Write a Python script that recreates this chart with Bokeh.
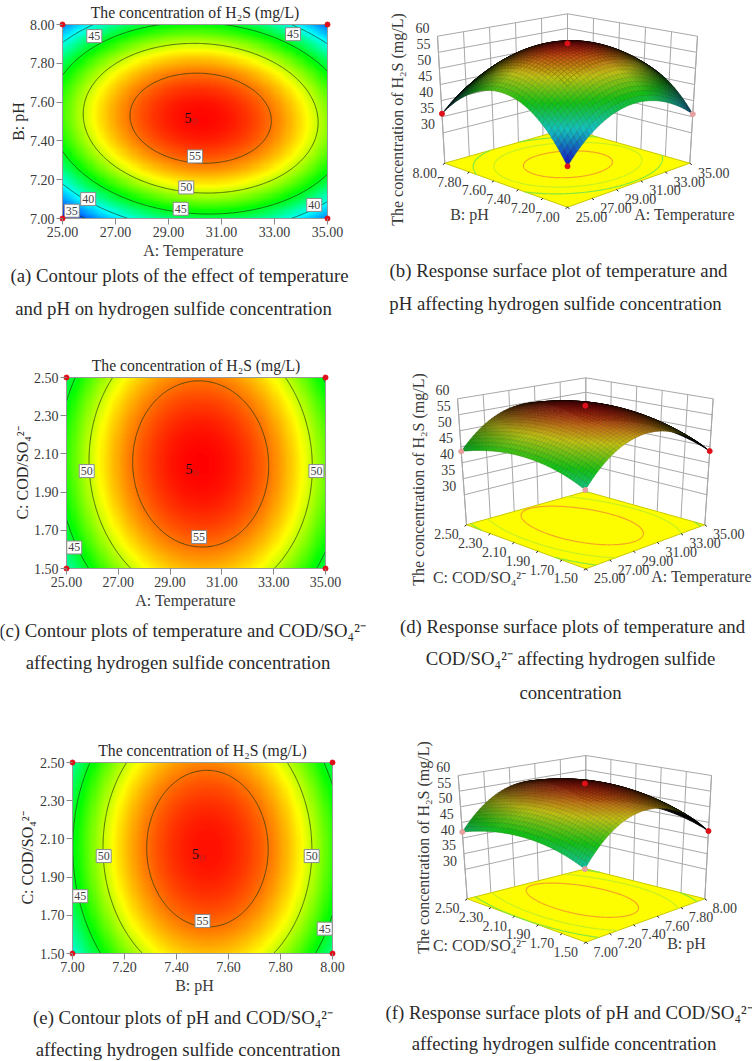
import numpy as np
from math import pi
from contourpy import contour_generator
from bokeh.plotting import figure
from bokeh.layouts import column, row
from bokeh.embed import file_html
from bokeh.resources import INLINE
from bokeh.core.properties import value
from bokeh.models import Label, Range1d, LinearAxis, FixedTicker, PrintfTickFormatter, LinearColorMapper, Title

# ---------- data ----------
TEMP_TICKS = [25, 27, 29, 31, 33, 35]
PH_TICKS = [7.0, 7.2, 7.4, 7.6, 7.8, 8.0]
COD_TICKS = [1.5, 1.7, 1.9, 2.1, 2.3, 2.5]
Z_TICKS = [30, 35, 40, 45, 50, 55, 60]
LEVELS = [35, 40, 45, 50, 55]

# fitted response model, coded units: z0, b1, b2, -a, -b, c
MODEL_AB = [57.8, 0.9, 0.95, -10.0, -13.2, -1.3]
MODEL_AC = [57.9, 0.8, 0.75, -10.7, -3.9, -0.3]
MODEL_BC = [57.5, 0.9, 0.75, -11.7, -3.8, -0.1]

TITLE = "The concentration of H₂S (mg/L)"
NAME_A = "A: Temperature"
NAME_B = "B: pH"
NAME_C = "C: COD/SO₄²⁻"

LABELS_A = [("45", 26.2, 7.94), ("45", 33.7, 7.95), ("55", 30.0, 7.32), ("50", 29.67, 7.16),
            ("45", 29.46, 7.05), ("40", 25.97, 7.10), ("35", 25.35, 7.04), ("40", 34.5, 7.07)]
LABELS_C = [("50", 25.78, 2.01), ("50", 34.65, 2.01), ("55", 30.12, 1.665), ("45", 25.3, 1.61)]
LABELS_E = [("50", 7.12, 2.01), ("50", 7.92, 2.01), ("55", 7.5, 1.67), ("45", 7.03, 1.80), ("45", 7.97, 1.63)]

# ---------- styles ----------
SERIF = "Liberation Serif"
INK = "#2a2a2a"
TICK_INK = "#3a3a3a"
GRID = "#a8a8a8"
STOPS_Z = [32.0, 39.5, 45.5, 51.3, 58.0]
STOPS_C = [(0, 0, 255), (0, 255, 255), (0, 255, 0), (255, 255, 0), (255, 0, 0)]
Z_LOW, Z_HIGH = 20.6, 60.0
PAD = 4
CAP = 18.8
AXN = 16
TIT = 15.7


def rainbow(z):
    z = np.asarray(z, dtype=float)
    return np.stack([np.interp(z, STOPS_Z, [c[i] for c in STOPS_C]) for i in range(3)], axis=-1)


palette = ["#%02x%02x%02x" % tuple(int(round(v)) for v in rainbow(z)) for z in np.linspace(32, 58, 256)]
mapper = LinearColorMapper(palette=palette, low=32, high=58)


def model(m, a, b):
    return m[0] + m[1] * a + m[2] * b + m[3] * a * a + m[4] * b * b + m[5] * a * b


def label(p, cell, x, y, text, size=16, angle=0.0, color=INK):
    p.add_layout(Label(x=x - cell[0], y=y - cell[1], x_units="canvas", y_units="canvas", text=text, text_font=SERIF,
                       text_font_size=f"{size}px", text_align="center", text_baseline="middle",
                       angle=angle, text_color=color))


def blank(cell):
    ox, oy, W, H = cell
    p = figure(frame_width=W, frame_height=H, output_backend="svg", toolbar_location=None, title=None,
               x_range=Range1d(ox, ox + W), y_range=Range1d(oy + H, oy),
               x_axis_location=None, y_axis_location=None,
               min_border_left=0, min_border_right=0, min_border_top=0, min_border_bottom=0)
    p.outline_line_color = None
    p.grid.visible = False
    return p


def strip(cell, xname, xlab_xy, captions):
    p = blank(cell)
    label(p, cell, xlab_xy[0], xlab_xy[1], xname, AXN, color=TICK_INK)
    for t, cxp, cyp in captions:
        label(p, cell, cxp, cyp, t, CAP)
    return p


def contour_panel(m, xt, yt, yname, labels, box, cell, title_x, ystand):
    fx0, fy0, fx1, fy1 = box
    ox, oy, W, H = cell
    x0, x1, y0, y1 = xt[0], xt[-1], yt[0], yt[-1]
    sx = (x1 - x0) / (fx1 - fx0)
    sy = (y1 - y0) / (fy1 - fy0)
    p = figure(width=W, height=H, output_backend="svg", toolbar_location=None,
               x_range=Range1d(x0 - PAD * sx, x1 + PAD * sx), y_range=Range1d(y0 - PAD * sy, y1 + PAD * sy),
               x_axis_location=None, y_axis_location=None,
               min_border_left=fx0 - PAD - ox, min_border_right=ox + W - fx1 - PAD,
               min_border_top=fy0 - PAD - oy, min_border_bottom=oy + H - fy1 - PAD)
    p.title = Title(text=TITLE, align="center", offset=title_x - (fx0 + fx1) / 2, standoff=0, text_font=SERIF,
                    text_font_size=f"{TIT}px", text_font_style="normal", text_color=INK)
    p.outline_line_color = None
    p.grid.visible = False
    for loc, ticks in (("below", xt), ("left", yt)):
        ax = LinearAxis(ticker=FixedTicker(ticks=list(ticks)), formatter=PrintfTickFormatter(format="%.2f"))
        ax.axis_line_color = None
        ax.major_tick_in = PAD
        ax.major_tick_out = 2
        ax.minor_tick_line_color = None
        ax.major_tick_line_color = "#888888"
        ax.major_label_standoff = 2
        ax.major_label_text_font = SERIF
        ax.major_label_text_font_size = "14px"
        ax.major_label_text_color = TICK_INK
        if loc == "left":
            ax.axis_label = yname
            ax.axis_label_standoff = ystand
            ax.axis_label_text_font = SERIF
            ax.axis_label_text_font_size = f"{AXN}px"
            ax.axis_label_text_font_style = "normal"
            ax.axis_label_text_color = INK
        p.add_layout(ax, loc)
    xs = np.linspace(-1, 1, 241)
    ys = np.linspace(-1, 1, 181)
    A, B = np.meshgrid(xs, ys)
    Z = model(m, A, B)
    p.image(image=[Z], x=x0, y=y0, dw=x1 - x0, dh=y1 - y0, color_mapper=mapper)
    gen = contour_generator(x=x0 + (xs + 1) / 2 * (x1 - x0), y=y0 + (ys + 1) / 2 * (y1 - y0), z=Z, line_type="Separate")
    lx, ly = [], []
    for lev in LEVELS:
        for seg in gen.lines(lev):
            lx.append(seg[:, 0])
            ly.append(seg[:, 1])
    p.multi_line(lx, ly, line_color="#1c3a12", line_alpha=0.7, line_width=1)
    p.quad(left=x0, right=x1, bottom=y0, top=y1, fill_color=None, line_color="#9a9a9a", line_width=1)
    tx = [l[1] for l in labels]
    ty = [l[2] for l in labels]
    tt = [l[0] for l in labels]
    p.rect(tx, ty, width=15, height=13, width_units="screen", height_units="screen",
           fill_color="white", line_color="#8a8a8a", line_width=1)
    p.text(tx, ty, text=tt, text_font=value(SERIF), text_font_size="12px", text_align="center",
           text_baseline="middle", text_color="#444444")
    p.scatter([x0, x0, x1, x1], [y0, y1, y0, y1], size=5, color="#e0101a")
    cx, cy = (x0 + x1) / 2, (y0 + y1) / 2
    p.scatter([cx], [cy], size=5, fill_color=None, line_color="#c02020", line_width=1)
    p.text([cx], [cy], text=["5"], x_offset=-7, y_offset=-4, text_font=value(SERIF), text_font_size="14px",
           text_align="center", text_baseline="middle", text_color="#111111")
    return p


def surface_panel(m, ut, vt, uname, vname, corners, cell, ulab_xy, vlab_xy, zlab_xy, dots, r_off, zlab=TITLE):
    L, R, F, Bk, TL, TR, TB = [np.array(c, dtype=float) for c in corners]
    TF = TL + TR - TB

    def proj(u, v, t):
        u, v, t = np.asarray(u, float), np.asarray(v, float), np.asarray(t, float)
        bot = [((1 - u) * (1 - v) * c0 + u * (1 - v) * c1 + (1 - u) * v * c2 + u * v * c3)
               for c0, c1, c2, c3 in zip(F, R, L, Bk)]
        top = [((1 - u) * (1 - v) * c0 + u * (1 - v) * c1 + (1 - u) * v * c2 + u * v * c3)
               for c0, c1, c2, c3 in zip(TF, TR, TL, TB)]
        return bot[0] + (top[0] - bot[0]) * t, bot[1] + (top[1] - bot[1]) * t

    zt = lambda z: (np.asarray(z, float) - Z_LOW) / (Z_HIGH - Z_LOW)
    p = blank(cell)
    nu = lambda a: (a - ut[0]) / (ut[-1] - ut[0])
    nv = lambda a: (a - vt[0]) / (vt[-1] - vt[0])
    # walls
    gx, gy = [], []
    for z in list(Z_TICKS):
        a = proj([0, 1, 1], [1, 1, 0], [zt(z)] * 3)
        gx.append(a[0])
        gy.append(a[1])
    for u in ut:
        a = proj([nu(u)] * 2, [1, 1], [0, 1])
        gx.append(a[0])
        gy.append(a[1])
    for v in vt:
        a = proj([1, 1], [nv(v)] * 2, [0, 1])
        gx.append(a[0])
        gy.append(a[1])
    a = proj([0, 0], [1, 1], [0, 1])
    gx.append(a[0])
    gy.append(a[1])
    a = proj([1, 1], [0, 0], [0, 1])
    gx.append(a[0])
    gy.append(a[1])
    p.multi_line(gx, gy, line_color=GRID, line_width=1)
    # floor
    a = proj([0, 1, 1, 0], [0, 0, 1, 1], [0, 0, 0, 0])
    p.patch(a[0], a[1], fill_color="#fdfd00", line_color="#c8c800", line_width=1)
    xs = np.linspace(-1, 1, 161)
    A, B = np.meshgrid(xs, xs)
    gen = contour_generator(x=(xs + 1) / 2, y=(xs + 1) / 2, z=model(m, A, B), line_type="Separate")
    for lev, col in ((45, "#86e83c"), (50, "#c8f020"), (55, "#f5a623")):
        lx, ly = [], []
        for seg in gen.lines(lev):
            b = proj(seg[:, 0], seg[:, 1], np.zeros(len(seg)))
            lx.append(b[0])
            ly.append(b[1])
        if lx:
            p.multi_line(lx, ly, line_color=col, line_width=1.2)
    # floor ticks
    sx0, sy0, sx1, sy1 = [], [], [], []
    for u in ut:
        b = proj(nu(u), 0.0, 0.0)
        sx0.append(float(b[0]))
        sy0.append(float(b[1]))
        sx1.append(float(b[0]) + 2)
        sy1.append(float(b[1]) + 1.5)
    for v in vt:
        b = proj(0.0, nv(v), 0.0)
        sx0.append(float(b[0]))
        sy0.append(float(b[1]))
        sx1.append(float(b[0]) - 2)
        sy1.append(float(b[1]) + 1.5)
    p.segment(sx0, sy0, sx1, sy1, line_color="#222222", line_width=1)
    # surface, painted from the back corner to the front corner
    N = 40
    g = np.linspace(0, 1, N + 1)
    k = 1.54 / (Z_HIGH - Z_LOW)
    qx, qy, fc, lc = [], [], [], []
    for i in range(N - 1, -1, -1):
        for j in range(N - 1, -1, -1):
            us = np.array([g[i], g[i + 1], g[i + 1], g[i]])
            vs = np.array([g[j], g[j], g[j + 1], g[j + 1]])
            zz = model(m, us * 2 - 1, vs * 2 - 1)
            px, py = proj(us, vs, zt(zz))
            qx.append(px)
            qy.append(py)
            ca, cb = g[i] + 0.5 / N, g[j] + 0.5 / N
            a_, b_ = ca * 2 - 1, cb * 2 - 1
            zc = model(m, a_, b_)
            dza = m[1] + 2 * m[3] * a_ + m[5] * b_
            dzb = m[2] + 2 * m[4] * b_ + m[5] * a_
            n = np.array([-k * dza, -k * dzb, 1.0])
            view = np.array([-0.67, -0.67, 0.32])
            dot = float(n @ view) / float(np.linalg.norm(n))
            s = float(np.clip((dot - 0.07) * 1.5, 0.0, 0.85))
            c = (0.8 * rainbow(zc) + 0.2 * 110.0) * s
            fc.append("#%02x%02x%02x" % tuple(int(v) for v in c))
            lc.append("#%02x%02x%02x" % tuple(int(v * 0.8) for v in c))
    p.patches(qx, qy, fill_color=fc, line_color=lc, line_width=0.5)
    # design points
    dx, dy, dc = [], [], []
    for a_, b_, col in dots:
        zc = model(m, a_, b_)
        q = proj((a_ + 1) / 2, (b_ + 1) / 2, zt(zc))
        dx.append(float(q[0]))
        dy.append(float(q[1]))
        dc.append(col)
    p.scatter(dx, dy, size=5, fill_color=dc, line_color=dc)
    # tick labels
    tx, ty, tt = [], [], []
    for z in Z_TICKS:
        q = proj(0.0, 1.0, zt(z))
        tx.append(float(q[0]) - 15)
        ty.append(float(q[1]) - 8.5)
        tt.append(str(z))
    for u in ut:
        q = proj(nu(u), 0.0, 0.0)
        tx.append(float(q[0]) + r_off)
        ty.append(float(q[1]) + 9.5)
        tt.append("%.2f" % u)
    for v in vt:
        q = proj(0.0, nv(v), 0.0)
        tx.append(float(q[0]) - 20)
        ty.append(float(q[1]) + 9.5)
        tt.append("%.2f" % v)
    p.text(tx, ty, text=tt, text_font=value(SERIF), text_font_size="14px", text_align="center",
           text_baseline="middle", text_color=TICK_INK)
    label(p, cell, ulab_xy[0], ulab_xy[1], uname, AXN, color=TICK_INK)
    label(p, cell, vlab_xy[0], vlab_xy[1], vname, AXN, color=TICK_INK)
    label(p, cell, zlab_xy[0], zlab_xy[1], zlab, AXN, angle=pi / 2, color=TICK_INK)
    return p


RED, PINK = "#e0101a", "#e8a0a0"

pa = contour_panel(MODEL_AB, TEMP_TICKS, PH_TICKS, NAME_B, LABELS_A, (62, 24, 327, 218), (0, 0, 376, 242), 196, 0)
pb = surface_panel(MODEL_AB, TEMP_TICKS, PH_TICKS, NAME_A, NAME_B,
                   [(444.3, 162.7), (689.3, 162.7), (567, 206.7), (567, 128), (437, 35.7), (697, 35.7), (567, 13.3)],
                   (376, 0, 376, 242), (684, 214), (469, 214), (397, 119),
                   [(-1, 1, RED), (1, -1, PINK), (-1, -1, RED), (0, 0, RED)], 24)
s1 = strip((0, 242, 752, 98), NAME_A, (193, 250),
           [("(a) Contour plots of the effect of temperature", 179, 275),
            ("and pH on hydrogen sulfide concentration", 173, 308),
            ("(b) Response surface plot of temperature and", 558, 270),
            ("pH affecting hydrogen sulfide concentration", 555, 303)])
pc = contour_panel(MODEL_AC, TEMP_TICKS, COD_TICKS, NAME_C, LABELS_C, (66, 377, 325, 568), (0, 340, 376, 252), 192, 0)
pd_ = surface_panel(MODEL_AC, TEMP_TICKS, COD_TICKS, NAME_A, NAME_C,
                    [(466, 524.3), (704.3, 524.3), (585.3, 568.3), (585.3, 491), (457, 398.3), (712.7, 398.3), (585.3, 377.3)],
                    (376, 340, 376, 252), (701, 576), (479, 577), (418, 479),
                    [(-1, 1, PINK), (1, -1, RED), (-1, -1, PINK), (0, 0, RED)], 24)
s2 = strip((0, 592, 752, 113), NAME_A, (185, 600),
           [("(c) Contour plots of temperature and COD/SO₄²⁻", 182, 630),
            ("affecting hydrogen sulfide concentration", 177.5, 662),
            ("(d) Response surface plots of temperature and", 572, 626),
            ("COD/SO₄²⁻ affecting hydrogen sulfide", 570, 658),
            ("concentration", 570, 692)])
pe = contour_panel(MODEL_BC, PH_TICKS, COD_TICKS, NAME_C, LABELS_E, (72, 762, 332, 953), (0, 705, 376, 272), 196, 1)
pf = surface_panel(MODEL_BC, PH_TICKS, COD_TICKS, NAME_B, NAME_C,
                   [(466.7, 898.3), (704.3, 898.3), (585.3, 941.7), (585.3, 868.3), (457.7, 775), (711, 775), (585.3, 755)],
                   (376, 705, 376, 272), (686, 943), (479, 945), (423, 847),
                   [(-1, 1, PINK), (1, -1, RED), (-1, -1, PINK), (0, 0, RED)], 20)
s3 = strip((0, 977, 752, 84), NAME_B, (194, 985),
           [("(e) Contour plots of pH and COD/SO₄²⁻", 182.5, 1017),
            ("affecting hydrogen sulfide concentration", 187.5, 1049),
            ("(f) Response surface plots of pH and COD/SO₄²⁻", 568.5, 1012),
            ("affecting hydrogen sulfide concentration", 563.5, 1043)])

page = column(row(column(pa), column(pb)), row(s1), row(column(pc), column(pd_)), row(s2),
              row(column(pe), column(pf)), row(s3), spacing=0)
open("out.html", "w").write(file_html(page, INLINE))
